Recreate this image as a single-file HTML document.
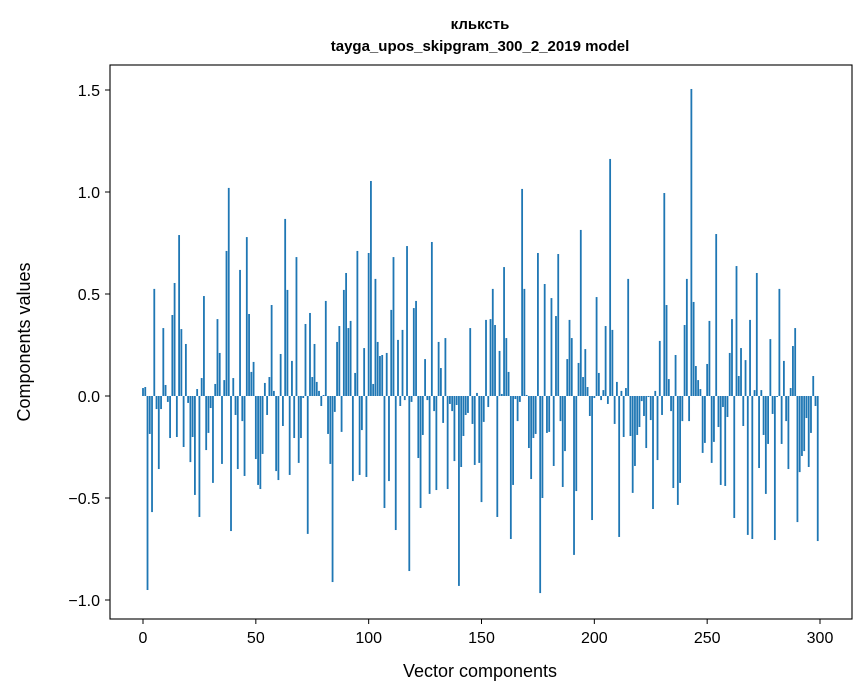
<!DOCTYPE html>
<html><head><meta charset="utf-8"><style>
body{margin:0;background:#fff;}
svg{display:block;font-family:"Liberation Sans","DejaVu Sans",sans-serif;}
</style></head><body>
<svg id="chart" width="867" height="696">
<rect width="867" height="696" fill="#fff"/>
<text x="480" y="29" text-anchor="middle" font-size="15" font-weight="bold">кльксть</text>
<text x="480" y="51" text-anchor="middle" font-size="15" font-weight="bold">tayga_upos_skipgram_300_2_2019 model</text>
<g id="bars"></g>
<g id="xticks"></g>
<g id="yticks"></g>
<rect x="110" y="65" width="742" height="554" fill="none" stroke="#000" stroke-width="1.1"/>
<text x="480" y="677" text-anchor="middle" font-size="18">Vector components</text>
<text transform="translate(30,342) rotate(-90)" text-anchor="middle" font-size="18">Components values</text>
</svg>
<script>
const values=[.039,.044,-.951,-.186,-.569,.525,-.064,-.358,-.064,.333,.054,-.029,-.206,.397,.554,-.201,.789,.328,-.25,.255,
-.034,-.324,-.201,-.485,.034,-.593,.088,.49,-.265,-.181,-.059,-.426,.059,.377,.211,-.333,.078,.711,1.02,-.662,
.088,-.093,-.358,.618,-.123,-.392,.779,.402,.118,.167,-.309,-.436,-.456,-.284,.064,-.093,.093,.446,.025,-.368,
-.412,.206,-.147,.868,.52,-.387,.172,-.206,.681,-.328,-.206,-.01,.353,-.676,.407,.093,.255,.069,.025,-.049,
.005,.466,-.186,-.333,-.912,-.078,.265,.343,-.176,.52,.603,.333,.368,-.417,.113,.711,-.387,-.167,.235,-.397,
.701,1.054,.059,.574,.265,.196,.201,-.549,.211,-.417,.422,.681,-.657,.275,-.049,.324,-.02,.735,-.858,-.029,
.431,.466,-.304,-.549,-.191,.181,-.02,-.48,.755,-.074,-.461,.265,.137,-.132,.284,-.456,-.039,-.074,-.319,-.044,
-.931,-.348,-.196,-.093,-.083,.333,-.137,-.338,.015,-.328,-.52,-.127,.373,-.054,.377,.525,.348,-.593,.221,.01,
.632,.284,.118,-.701,-.436,-.015,-.123,-.029,1.015,.525,.005,-.255,-.407,-.206,-.186,.701,-.966,-.5,.549,-.181,
-.176,.48,-.343,.392,.696,-.123,-.446,-.27,.181,.373,.284,-.779,-.466,.162,.814,.093,.23,.044,-.098,-.608,
-.01,.485,.113,-.02,.029,.343,-.039,1.162,.324,-.137,.069,-.691,.025,-.201,.039,.574,-.196,-.475,-.343,-.191,
-.152,-.025,-.098,-.255,-.005,-.118,-.554,.025,-.314,.27,-.093,.995,.446,.083,-.074,-.451,.201,-.534,-.426,-.123,
.348,.574,-.123,1.505,.461,.147,.078,.034,-.279,-.23,.157,.368,-.328,-.225,.794,-.152,-.436,-.054,-.441,-.103,
.211,.377,-.598,.637,.098,.235,-.147,.176,-.681,.373,-.701,.029,.603,-.353,.029,-.191,-.48,-.235,.279,-.088,
-.706,-.005,.525,-.235,.172,-.123,-.358,.039,.245,.333,-.618,-.373,-.294,-.27,-.108,-.348,-.181,.098,-.049,-.711];
const xTickValues=[0,50,100,150,200,250,300];
const yTickValues=[1.5,1.0,0.5,0.0,-0.5,-1.0];
const yTickLabels=["1.5","1.0","0.5","0.0","\u22120.5","\u22121.0"];
const NS="http://www.w3.org/2000/svg";
function xs(i){return 143+i*(820-143)/300;}
function ys(v){return 396-v*204;}
const bars=document.getElementById('bars');
values.forEach((v,i)=>{
  const r=document.createElementNS(NS,'rect');
  const w=0.8*(820-143)/300;
  r.setAttribute('x',xs(i)-w/2);
  r.setAttribute('y',Math.min(ys(v),ys(0)));
  r.setAttribute('width',w);
  r.setAttribute('height',Math.abs(ys(v)-ys(0)));
  r.setAttribute('fill','#1f77b4');
  
  
  bars.appendChild(r);
});
const xg=document.getElementById('xticks');
xTickValues.forEach(t=>{
  const l=document.createElementNS(NS,'line');
  l.setAttribute('x1',xs(t));l.setAttribute('x2',xs(t));l.setAttribute('y1',619);l.setAttribute('y2',624);
  l.setAttribute('stroke','#000');
  
  
  xg.appendChild(l);
  const tx=document.createElementNS(NS,'text');
  tx.setAttribute('x',xs(t));tx.setAttribute('y',643);tx.setAttribute('text-anchor','middle');tx.setAttribute('font-size','16');
  tx.textContent=t;
  
  
  xg.appendChild(tx);
});
const yg=document.getElementById('yticks');
yTickValues.forEach((t,k)=>{
  const l=document.createElementNS(NS,'line');
  l.setAttribute('x1',105);l.setAttribute('x2',110);l.setAttribute('y1',ys(t));l.setAttribute('y2',ys(t));
  l.setAttribute('stroke','#000');
  
  
  yg.appendChild(l);
  const tx=document.createElementNS(NS,'text');
  tx.setAttribute('x',100);tx.setAttribute('y',ys(t)+6);tx.setAttribute('text-anchor','end');tx.setAttribute('font-size','16');
  tx.textContent=yTickLabels[k];
  
  
  yg.appendChild(tx);
});
</script>
</body></html>
